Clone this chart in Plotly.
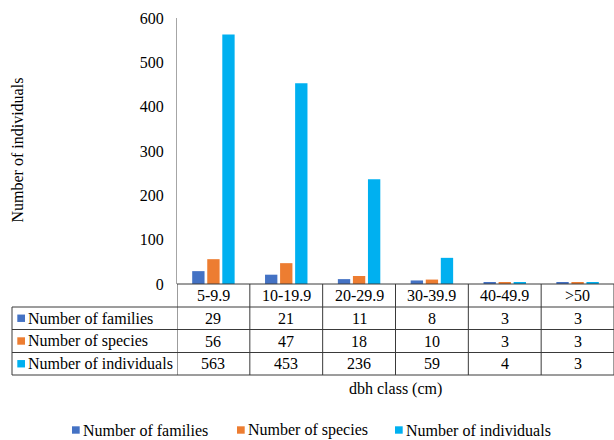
import plotly.graph_objects as go

# dbh classes and counts per class
classes = ["5-9.9", "10-19.9", "20-29.9", "30-39.9", "40-49.9", ">50"]
families = [29, 21, 11, 8, 3, 3]
species = [56, 47, 18, 10, 3, 3]
individuals = [563, 453, 236, 59, 4, 3]

series_names = ["Number of families", "Number of species", "Number of individuals"]
series_values = [families, species, individuals]
series_colors = ["#4472C4", "#ED7D31", "#00B0F0"]

W, H = 614, 440
L, R, T, B = 177, 0, 18, 156
PW, PH = W - L - R, H - T - B
FONT = "Liberation Serif"
TXT = "#000000"


def px(p):
    """pixel x -> paper x"""
    return (p - L) / PW


def py(p):
    """pixel y -> paper y"""
    return (H - B - p) / PH


fig = go.Figure()
for name, vals, col in zip(series_names, series_values, series_colors):
    fig.add_trace(go.Bar(x=list(range(len(classes))), y=vals, name=name,
                         marker=dict(color=col, line=dict(width=0)),
                         showlegend=False))

shapes = []
annotations = []
line_col = "#3a3a3a"

# data table grid
row_edges = [284, 307, 329.5, 352.5, 375]
shapes.append(dict(type="line", xref="x", yref="paper", x0=-0.5, x1=5.5,
                   y0=py(row_edges[0]), y1=py(row_edges[0]),
                   line=dict(color=line_col, width=1)))
for ye in row_edges[1:]:
    shapes.append(dict(type="line", xref="paper", yref="paper", x0=px(12), x1=px(W + 1),
                       y0=py(ye), y1=py(ye), line=dict(color=line_col, width=1)))
shapes.append(dict(type="line", xref="paper", yref="paper", x0=px(12), x1=px(12),
                   y0=py(row_edges[1]), y1=py(row_edges[-1]), line=dict(color=line_col, width=1)))
for i in range(len(classes) + 1):
    shapes.append(dict(type="line", xref="x", yref="paper", x0=i - 0.5, x1=i - 0.5,
                       y0=py(row_edges[0]), y1=py(row_edges[-1]),
                       line=dict(color=line_col, width=1)))

# header row with class labels
hdr_y = (row_edges[0] + row_edges[1]) / 2
for i, c in enumerate(classes):
    annotations.append(dict(x=i, y=py(hdr_y), xref="x", yref="paper", text=c,
                            showarrow=False, xanchor="center", yanchor="middle",
                            font=dict(family=FONT, size=16, color=TXT)))

# series rows: key square, row name, values
for r, (name, vals, col) in enumerate(zip(series_names, series_values, series_colors)):
    yc = (row_edges[r + 1] + row_edges[r + 2]) / 2
    shapes.append(dict(type="rect", xref="paper", yref="paper",
                       x0=px(17.3), x1=px(25), y0=py(yc - 3.7), y1=py(yc + 3.7),
                       fillcolor=col, line=dict(width=0)))
    annotations.append(dict(x=px(26), y=py(yc), xref="paper", yref="paper", text=name,
                            showarrow=False, xanchor="left", yanchor="middle",
                            font=dict(family=FONT, size=16, color=TXT)))
    for i, v in enumerate(vals):
        annotations.append(dict(x=i, y=py(yc), xref="x", yref="paper", text=str(v),
                                showarrow=False, xanchor="center", yanchor="middle",
                                font=dict(family=FONT, size=16, color=TXT)))

# axis titles
annotations.append(dict(x=0.5, y=py(389), xref="paper", yref="paper", text="dbh class (cm)",
                        showarrow=False, xanchor="center", yanchor="middle",
                        font=dict(family=FONT, size=16, color=TXT)))
annotations.append(dict(x=px(16.5), y=py(150), xref="paper", yref="paper",
                        text="Number of individuals", textangle=-90,
                        showarrow=False, xanchor="center", yanchor="middle",
                        font=dict(family=FONT, size=16, color=TXT)))

# bottom legend
leg_y = 430
leg_x = [72, 237, 395]
for name, col, x0 in zip(series_names, series_colors, leg_x):
    shapes.append(dict(type="rect", xref="paper", yref="paper",
                       x0=px(x0), x1=px(x0 + 7.7), y0=py(leg_y - 3.7), y1=py(leg_y + 3.7),
                       fillcolor=col, line=dict(width=0)))
    annotations.append(dict(x=px(x0 + 9), y=py(leg_y), xref="paper", yref="paper", text=name,
                            showarrow=False, xanchor="left", yanchor="middle",
                            font=dict(family=FONT, size=16, color=TXT)))

fig.update_layout(
    width=W, height=H,
    margin=dict(l=L, r=R, t=T, b=B, pad=0),
    paper_bgcolor="white", plot_bgcolor="white",
    font=dict(family=FONT, size=16, color=TXT),
    barmode="group", bargap=0.38, bargroupgap=0.18,
    showlegend=False,
    shapes=shapes, annotations=annotations,
    xaxis=dict(range=[-0.5, 5.5], showticklabels=False, showgrid=False,
               zeroline=False, showline=False, ticks=""),
    yaxis=dict(range=[0, 600], dtick=100, showgrid=False, zeroline=False,
               showline=True, linecolor="#A6A6A6", linewidth=1, ticks="",
               ticklabelstandoff=9,
               tickfont=dict(family=FONT, size=16, color=TXT)),
)

fig.write_html("out.html")
